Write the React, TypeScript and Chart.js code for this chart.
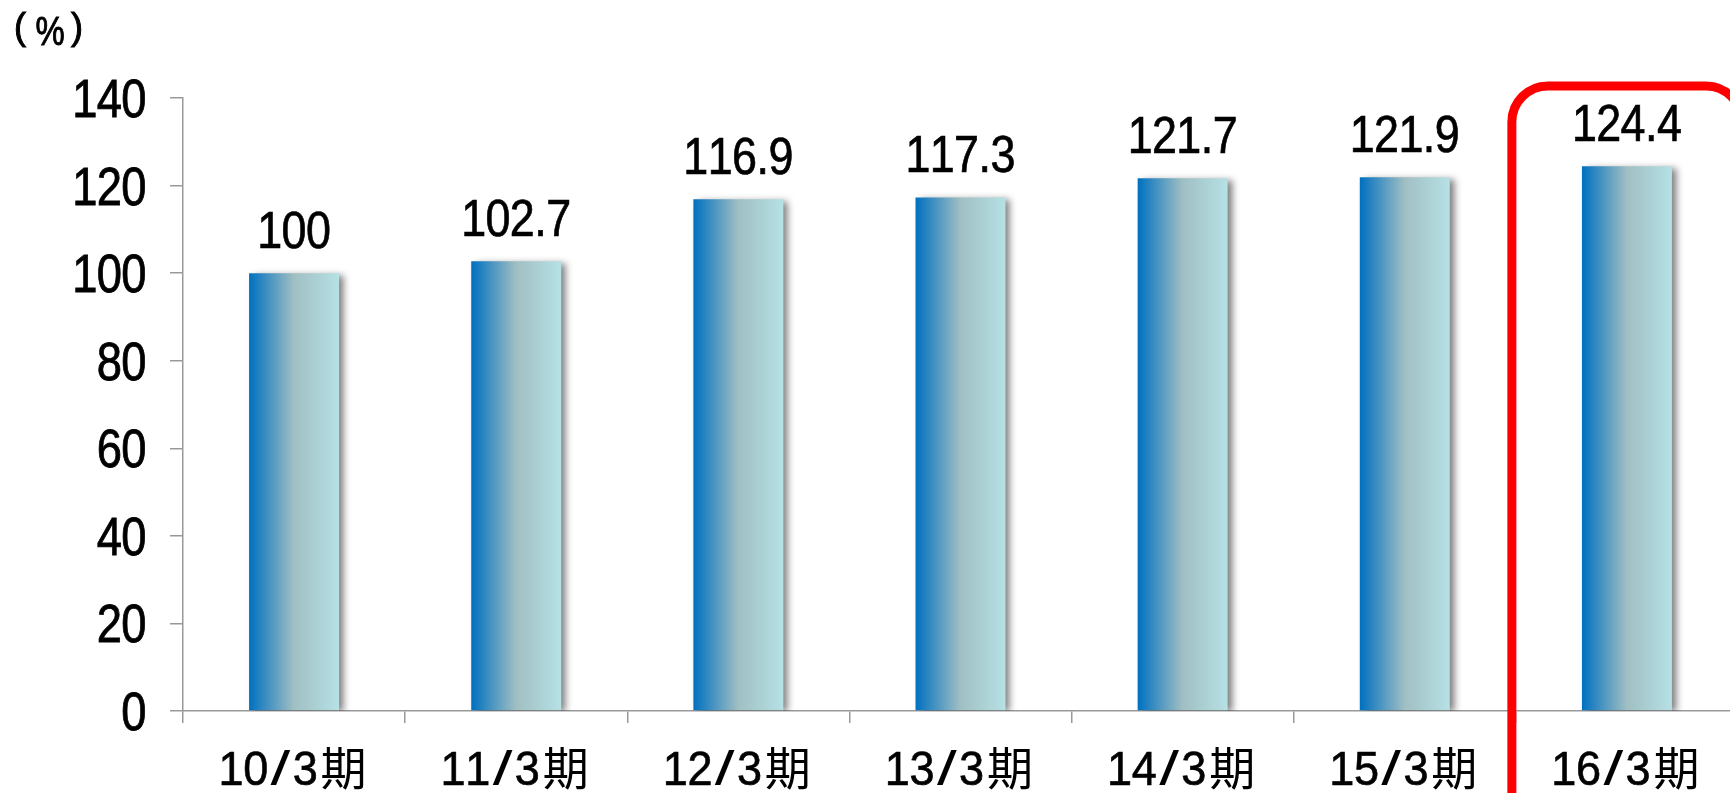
import React, { useEffect, useRef } from "react";
import { Chart, registerables } from "chart.js";

Chart.register(...registerables);

const categories = ["10/3期", "11/3期", "12/3期", "13/3期", "14/3期", "15/3期", "16/3期"];
const values = [100, 102.7, 116.9, 117.3, 121.7, 121.9, 124.4];
const yTicks = [0, 20, 40, 60, 80, 100, 120, 140];
const highlightIndex = 6;
const unitLabel = ["(", "%", ")"];

const LATIN = '"Liberation Sans", Arial, sans-serif';
const CJK = '"Noto Sans CJK JP", sans-serif';
const BAR_PCT = 0.405;
const AXIS_COLOR = "#999999";

type Style = { size: number; cell: number; sx: number; cjkSize: number; cjkCell: number; stroke: number };
const X_STYLE: Style = { size: 49, cell: 24.75, sx: 0.92, cjkSize: 46, cjkCell: 52, stroke: 0.6 };
const Y_STYLE: Style = { size: 54, cell: 24.5, sx: 0.84, cjkSize: 46, cjkCell: 52, stroke: 0.7 };
const D_STYLE: Style = { size: 51, cell: 24.3, sx: 0.88, cjkSize: 46, cjkCell: 52, stroke: 0.6 };

function cellOf(ch: string, st: Style) {
  if (ch.charCodeAt(0) > 255) return st.cjkCell;
  if (ch === ".") return st.cell * 0.5;
  return st.cell;
}

// draws text char by char in fixed cells, like a Japanese gothic font
function drawCells(ctx: CanvasRenderingContext2D, text: string, x: number, baseline: number, align: "left" | "center" | "right", st: Style) {
  const chars = Array.from(text);
  const total = chars.reduce((s, c) => s + cellOf(c, st), 0);
  let cx = align === "left" ? x : align === "center" ? x - total / 2 : x - total;
  ctx.save();
  ctx.fillStyle = "#000000";
  ctx.strokeStyle = "#000000";
  ctx.textBaseline = "alphabetic";
  ctx.textAlign = "center";
  chars.forEach((c) => {
    const w = cellOf(c, st);
    const cjk = c.charCodeAt(0) > 255;
    ctx.font = cjk ? `${st.cjkSize}px ${CJK}` : `${st.size}px ${LATIN}`;
    const sx = cjk ? 1 : c === "/" ? 1.45 : st.sx;
    ctx.save();
    ctx.translate(cx + w / 2, baseline);
    ctx.scale(sx, 1);
    ctx.lineWidth = st.stroke / sx;
    ctx.fillText(c, 0, 0);
    if (!cjk && c !== "/") ctx.strokeText(c, 0, 0);
    ctx.restore();
    cx += w;
  });
  ctx.restore();
}

export default function App() {
  const ref = useRef<HTMLCanvasElement | null>(null);

  useEffect(() => {
    if (!ref.current) return;

    const drawPlugin = {
      id: "customDraw",
      beforeDatasetsDraw(chart: any) {
        const ctx = chart.ctx;
        ctx.save();
        ctx.shadowColor = "rgba(0,0,0,0.5)";
        ctx.shadowBlur = 7;
        ctx.shadowOffsetX = 5;
        ctx.shadowOffsetY = 2;
      },
      afterDatasetsDraw(chart: any) {
        const ctx = chart.ctx;
        ctx.restore();
        const meta = chart.getDatasetMeta(0);
        meta.data.forEach((bar: any, i: number) => {
          drawCells(ctx, String(values[i]), bar.x, bar.y - 25, "center", D_STYLE);
        });
      },
      afterDraw(chart: any) {
        const ctx = chart.ctx;
        const xs = chart.scales.x;
        const ys = chart.scales.y;
        // y tick labels
        yTicks.forEach((v) => {
          const py = ys.getPixelForValue(v);
          drawCells(ctx, String(v), ys.right - 37, py + 19, "right", Y_STYLE);
        });
        // x tick labels
        categories.forEach((c, i) => {
          const px = xs.getPixelForValue(i);
          drawCells(ctx, c, px, xs.top + 74, "center", X_STYLE);
        });
        // unit label
        ctx.save();
        ctx.fillStyle = "#000000";
        ctx.strokeStyle = "#000000";
        ctx.lineWidth = 1;
        ctx.textBaseline = "alphabetic";
        ctx.textAlign = "center";
        ctx.font = `36px ${LATIN}`;
        ctx.fillText(unitLabel[0], 20, 39);
        ctx.strokeText(unitLabel[0], 20, 39);
        ctx.fillText(unitLabel[2], 77, 39);
        ctx.strokeText(unitLabel[2], 77, 39);
        ctx.font = `41px ${LATIN}`;
        ctx.translate(50, 45);
        ctx.scale(0.8, 1);
        ctx.fillText(unitLabel[1], 0, 0);
        ctx.strokeText(unitLabel[1], 0, 0);
        ctx.restore();
        // highlight box
        const catW = xs.width / categories.length;
        const cx = xs.getPixelForValue(highlightIndex);
        const left = cx - catW / 2 - 4;
        const right = cx + catW / 2 + 4;
        const top = ys.getPixelForValue(140) - 12;
        const bottom = chart.height + 60;
        const r = 36;
        ctx.save();
        ctx.strokeStyle = "#ff0000";
        ctx.lineWidth = 9;
        ctx.beginPath();
        ctx.moveTo(left, bottom);
        ctx.lineTo(left, top + r);
        ctx.arcTo(left, top, left + r, top, r);
        ctx.lineTo(right - r, top);
        ctx.arcTo(right, top, right, top + r, r);
        ctx.lineTo(right, bottom);
        ctx.stroke();
        ctx.restore();
      },
    };

    const chart = new Chart(ref.current, {
      type: "bar",
      data: {
        labels: categories,
        datasets: [
          {
            data: values,
            barPercentage: BAR_PCT,
            categoryPercentage: 1,
            borderWidth: 0,
            backgroundColor: (c: any) => {
              const ch = c.chart;
              const xs = ch.scales && ch.scales.x;
              if (!xs || c.dataIndex == null) return "#5aa0c8";
              const cx = xs.getPixelForValue(c.dataIndex);
              const w = (xs.width / categories.length) * BAR_PCT;
              if (!isFinite(cx) || !isFinite(w) || w <= 0) return "#5aa0c8";
              const g = ch.ctx.createLinearGradient(cx - w / 2, 0, cx + w / 2, 0);
              g.addColorStop(0, "#0070c0");
              g.addColorStop(0.5, "#a0bfc3");
              g.addColorStop(1, "#b6e1e5");
              return g;
            },
          },
        ],
      },
      options: {
        responsive: false,
        animation: false,
        devicePixelRatio: 1,
        layout: { padding: { top: 98, right: 22, left: 0, bottom: 0 } },
        plugins: {
          legend: { display: false },
          tooltip: { enabled: false },
          title: { display: false },
        },
        scales: {
          x: {
            offset: true,
            grid: {
              display: true,
              drawOnChartArea: false,
              drawTicks: true,
              tickLength: 12,
              color: AXIS_COLOR,
              lineWidth: 1.5,
              offset: true,
            },
            border: { display: true, color: AXIS_COLOR, width: 1.5 },
            ticks: { display: false },
            afterFit: (s: any) => {
              s.height = 82;
            },
          },
          y: {
            min: 0,
            max: 140,
            afterBuildTicks: (s: any) => {
              s.ticks = yTicks.map((v) => ({ value: v }));
            },
            grid: {
              display: true,
              drawOnChartArea: false,
              drawTicks: true,
              tickLength: 13,
              color: AXIS_COLOR,
              lineWidth: 1.5,
            },
            border: { display: true, color: AXIS_COLOR, width: 1.5 },
            ticks: { display: false },
            afterFit: (s: any) => {
              s.width = 183;
            },
          },
        },
      },
      plugins: [drawPlugin],
    });

    return () => chart.destroy();
  }, []);

  return (
    <div
      style={{
        position: "fixed",
        left: 0,
        top: 0,
        width: 1730,
        height: 793,
        overflow: "hidden",
        background: "#ffffff",
      }}
    >
      <canvas ref={ref} width={1760} height={793} style={{ display: "block", width: 1760, height: 793 }} />
    </div>
  );
}
